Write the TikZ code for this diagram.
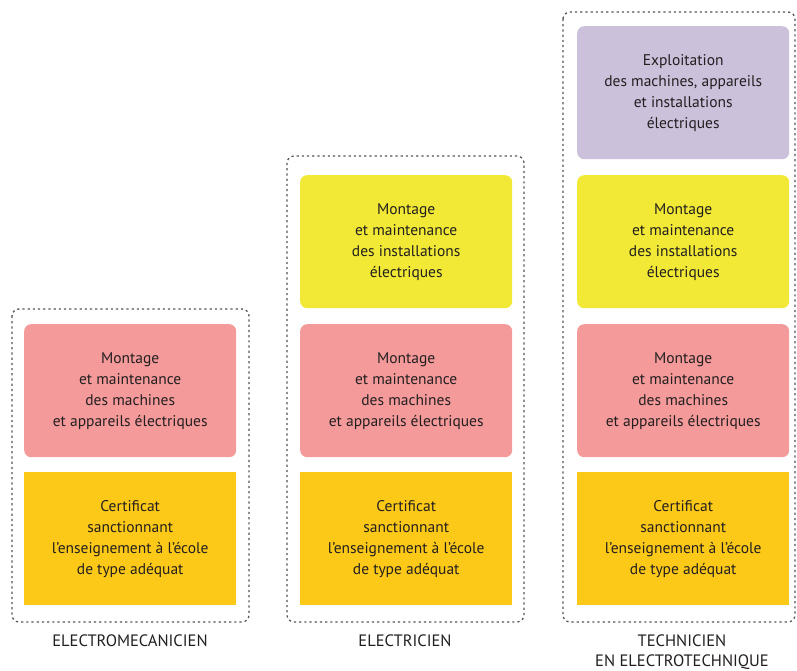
\documentclass[tikz,border=0pt]{standalone}
\usepackage{fontspec}
\setmainfont{PT Sans}
\begin{document}
\begin{tikzpicture}[x=1pt,y=-1pt,
  box/.style={draw=none,minimum width=212pt,minimum height=133pt,inner sep=0pt,align=center,text=txt,font=\fontsize{15.5}{21}\selectfont,anchor=north west},
  rbox/.style={box,rounded corners=7pt},
  frame/.style={draw=frm,line width=1.3pt,dash pattern=on 2.2pt off 3pt,rounded corners=7pt},
  lbl/.style={text=txt,font=\fontsize{16.5}{20}\selectfont,align=center}]
\definecolor{txt}{HTML}{231F20}
\definecolor{frm}{HTML}{555555}
\definecolor{pinkc}{HTML}{F49A9A}
\definecolor{orangec}{HTML}{FDC918}
\definecolor{yellowc}{HTML}{F1E935}
\definecolor{purplec}{HTML}{CBC1DB}
\useasboundingbox (0,0) rectangle (797,671);
% frames
\draw[frame] (12,309) rectangle (249,622);
\draw[frame] (287,156) rectangle (524,622);
\draw[frame] (563,12) rectangle (795,622);
% left
\node[rbox,fill=pinkc] (l2) at (24,324) {Montage\\et maintenance\\des machines\\et appareils électriques};
\node[box,fill=orangec] (l1) at (24,472) {Certificat\\sanctionnant\\l’enseignement à l’école\\de type adéquat};
% middle
\node[rbox,fill=yellowc] (m3) at (300,175) {Montage\\et maintenance\\des installations\\électriques};
\node[rbox,fill=pinkc] (m2) at (300,324) {Montage\\et maintenance\\des machines\\et appareils électriques};
\node[box,fill=orangec] (m1) at (300,472) {Certificat\\sanctionnant\\l’enseignement à l’école\\de type adéquat};
% right
\node[rbox,fill=purplec] (r4) at (577,26) {Exploitation\\des machines, appareils\\et installations\\électriques};
\node[rbox,fill=yellowc] (r3) at (577,175) {Montage\\et maintenance\\des installations\\électriques};
\node[rbox,fill=pinkc] (r2) at (577,324) {Montage\\et maintenance\\des machines\\et appareils électriques};
\node[box,fill=orangec] (r1) at (577,472) {Certificat\\sanctionnant\\l’enseignement à l’école\\de type adéquat};
% labels
\node[lbl,anchor=north] (la) at (130,631) {ELECTROMECANICIEN};
\node[lbl,anchor=north] (lb) at (405,631) {ELECTRICIEN};
\node[lbl,anchor=north] (lc) at (682,631) {TECHNICIEN\\EN ELECTROTECHNIQUE};
\end{tikzpicture}
\end{document}
